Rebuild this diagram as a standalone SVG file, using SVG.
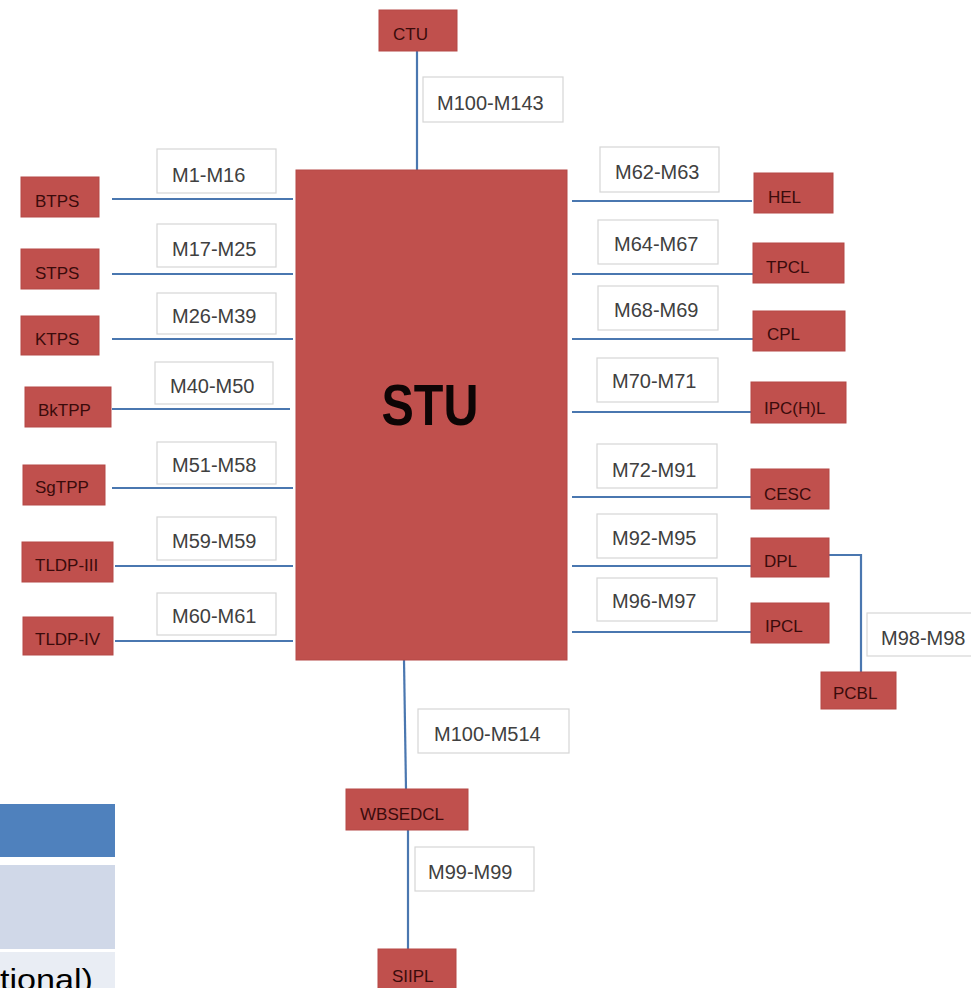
<svg xmlns="http://www.w3.org/2000/svg" width="971" height="988" viewBox="0 0 971 988">
<style>
.n{fill:#c0504d;stroke:#b54946;stroke-width:1}
.nt{font-family:"Liberation Sans",Arial,sans-serif;font-size:17px;fill:#3a0b0b}
.lb{fill:#ffffff;stroke:#d6d6d6;stroke-width:1.2}
.lt{font-family:"Liberation Sans",Arial,sans-serif;font-size:20px;fill:#404040}
.c{stroke:#4a77b0;stroke-width:2.2;fill:none}
</style>
<rect width="971" height="988" fill="#ffffff"/>
<!-- legend fragment bottom-left -->
<g id="legend">
<rect x="0" y="804" width="115" height="53" fill="#4f81bd"/>
<rect x="0" y="865" width="115" height="84" fill="#d0d8e8"/>
<rect x="0" y="952" width="115" height="36" fill="#e9edf4"/>
<text x="93" y="990" text-anchor="end" font-family="'Liberation Sans',Arial,sans-serif" font-size="30" fill="#000" textLength="93" lengthAdjust="spacingAndGlyphs">tional)</text>
</g>
<g id="connectors">
<path class="c" d="M417 51V170"/>
<path class="c" d="M112 199H293M112 274H293M112 339H293M112 409H290M112 488H293M115 566H293M115 641H293"/>
<path class="c" d="M572 201H752M572 274H753M572 339H753M572 412H751M572 497H751M572 566H751M572 632H751"/>
<path class="c" d="M829 555H861V672"/>
<path class="c" d="M404 660L406 789"/>
<path class="c" d="M408 830V949"/>
</g>
<g id="labels">
<g id="lbl-ctu"><rect class="lb" x="423" y="77" width="140" height="45"/><text class="lt" x="437" y="110">M100-M143</text></g>
<g id="lbl-btps"><rect class="lb" x="157" y="149" width="119" height="44"/><text class="lt" x="172" y="182">M1-M16</text></g>
<g id="lbl-stps"><rect class="lb" x="157" y="224" width="119" height="43"/><text class="lt" x="172" y="256">M17-M25</text></g>
<g id="lbl-ktps"><rect class="lb" x="157" y="293" width="119" height="41"/><text class="lt" x="172" y="323">M26-M39</text></g>
<g id="lbl-bktpp"><rect class="lb" x="155" y="362" width="118" height="42"/><text class="lt" x="170" y="393">M40-M50</text></g>
<g id="lbl-sgtpp"><rect class="lb" x="157" y="442" width="119" height="42"/><text class="lt" x="172" y="472">M51-M58</text></g>
<g id="lbl-tldp3"><rect class="lb" x="157" y="517" width="119" height="43"/><text class="lt" x="172" y="548">M59-M59</text></g>
<g id="lbl-tldp4"><rect class="lb" x="157" y="593" width="119" height="42"/><text class="lt" x="172" y="623">M60-M61</text></g>
<g id="lbl-hel"><rect class="lb" x="600" y="147" width="119" height="45"/><text class="lt" x="615" y="179">M62-M63</text></g>
<g id="lbl-tpcl"><rect class="lb" x="598" y="220" width="120" height="44"/><text class="lt" x="614" y="251">M64-M67</text></g>
<g id="lbl-cpl"><rect class="lb" x="598" y="286" width="120" height="44"/><text class="lt" x="614" y="317">M68-M69</text></g>
<g id="lbl-ipchl"><rect class="lb" x="597" y="358" width="121" height="44"/><text class="lt" x="612" y="388">M70-M71</text></g>
<g id="lbl-cesc"><rect class="lb" x="597" y="444" width="120" height="44"/><text class="lt" x="612" y="477">M72-M91</text></g>
<g id="lbl-dpl"><rect class="lb" x="597" y="514" width="120" height="44"/><text class="lt" x="612" y="545">M92-M95</text></g>
<g id="lbl-ipcl"><rect class="lb" x="597" y="578" width="120" height="43"/><text class="lt" x="612" y="608">M96-M97</text></g>
<g id="lbl-pcbl"><rect class="lb" x="867" y="613" width="110" height="43"/><text class="lt" x="881" y="645">M98-M98</text></g>
<g id="lbl-wbsedcl"><rect class="lb" x="418" y="709" width="151" height="44"/><text class="lt" x="434" y="741">M100-M514</text></g>
<g id="lbl-siipl"><rect class="lb" x="415" y="847" width="119" height="44"/><text class="lt" x="428" y="879">M99-M99</text></g>
</g>
<g id="STU"><rect class="n" x="296" y="170" width="271" height="490"/><text x="430" y="425" text-anchor="middle" font-family="'Liberation Sans',Arial,sans-serif" font-weight="bold" font-size="58" fill="#0d0505" textLength="97" lengthAdjust="spacingAndGlyphs">STU</text></g>
<g id="CTU"><rect class="n" x="379" y="10" width="78" height="41"/><text class="nt" x="393" y="40">CTU</text></g>
<g id="BTPS"><rect class="n" x="21" y="177" width="78" height="40"/><text class="nt" x="35" y="207">BTPS</text></g>
<g id="STPS"><rect class="n" x="21" y="249" width="78" height="40"/><text class="nt" x="35" y="279">STPS</text></g>
<g id="KTPS"><rect class="n" x="21" y="316" width="78" height="39"/><text class="nt" x="35" y="345">KTPS</text></g>
<g id="BkTPP"><rect class="n" x="25" y="387" width="86" height="40"/><text class="nt" x="38" y="416">BkTPP</text></g>
<g id="SgTPP"><rect class="n" x="23" y="465" width="82" height="40"/><text class="nt" x="35" y="493">SgTPP</text></g>
<g id="TLDP-III"><rect class="n" x="22" y="542" width="91" height="40"/><text class="nt" x="35" y="571">TLDP-III</text></g>
<g id="TLDP-IV"><rect class="n" x="23" y="617" width="90" height="38"/><text class="nt" x="35" y="645">TLDP-IV</text></g>
<g id="HEL"><rect class="n" x="754" y="173" width="79" height="40"/><text class="nt" x="768" y="203">HEL</text></g>
<g id="TPCL"><rect class="n" x="753" y="243" width="91" height="40"/><text class="nt" x="766" y="273">TPCL</text></g>
<g id="CPL"><rect class="n" x="753" y="311" width="92" height="40"/><text class="nt" x="767" y="340">CPL</text></g>
<g id="IPCHL"><rect class="n" x="751" y="382" width="95" height="41"/><text class="nt" x="764" y="414">IPC(H)L</text></g>
<g id="CESC"><rect class="n" x="751" y="469" width="78" height="40"/><text class="nt" x="764" y="500">CESC</text></g>
<g id="DPL"><rect class="n" x="751" y="538" width="78" height="39"/><text class="nt" x="764" y="567">DPL</text></g>
<g id="IPCL"><rect class="n" x="751" y="603" width="78" height="40"/><text class="nt" x="765" y="632">IPCL</text></g>
<g id="PCBL"><rect class="n" x="821" y="672" width="75" height="37"/><text class="nt" x="833" y="699" font-size="16">PCBL</text></g>
<g id="WBSEDCL"><rect class="n" x="346" y="789" width="122" height="41"/><text class="nt" x="360" y="820">WBSEDCL</text></g>
<g id="SIIPL"><rect class="n" x="378" y="949" width="78" height="45"/><text class="nt" x="392" y="982">SIIPL</text></g>
</svg>
